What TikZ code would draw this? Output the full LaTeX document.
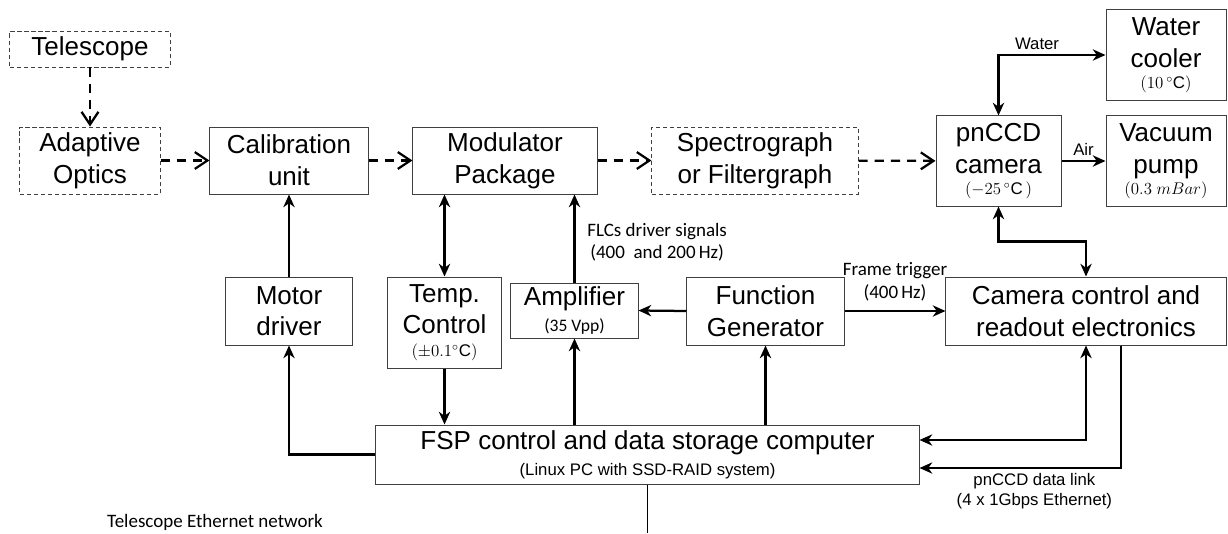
\documentclass[tikz,border=0pt]{standalone}
\usepackage{fontspec}
\setmainfont{Liberation Sans}
\newfontfamily\calfont{Carlito}
\usetikzlibrary{arrows.meta,calc}
\newcommand{\bigfnt}{\fontsize{18.5}{22.5}\selectfont}
\newcommand{\subfnt}{\fontsize{12}{14}\selectfont}
\newcommand{\smfnt}{\fontsize{11.9}{14}\selectfont}
\newcommand{\lblfnt}{\calfont\fontsize{13.5}{16}\selectfont}

\begin{document}
\begin{tikzpicture}
[x=0.025cm, y=-0.025cm,
block/.style={draw=black!75, line width=0.7pt, align=center, inner sep=0pt, font=\bigfnt},
dblock/.style={block, dash pattern=on 3pt off 2pt},
sig/.style={line width=1.6pt, >={Stealth[length=9pt,width=8pt,inset=2.8pt]}},
light/.style={line width=1.6pt, dash pattern=on 6.5pt off 5pt, >={Straight Barb[length=9pt,width=12pt]}}]
\useasboundingbox (0,0) rectangle (1228,533);

% optical path
\node (tel) at (90,49) [dblock, minimum width=4cm, minimum height=0.9cm] {Telescope};
\node (ao) at (90,160.5) [dblock, minimum width=3.5cm, minimum height=1.675cm] {Adaptive\\Optics};
\node (cal) at (289,160.5) [block, minimum width=3.95cm, minimum height=1.675cm] {Calibration\\unit};
\node (mod) at (505,160.5) [block, minimum width=4.6cm, minimum height=1.675cm] {Modulator\\Package};
\node (spec) at (755,160.5) [dblock, minimum width=5.15cm, minimum height=1.675cm] {Spectrograph\\or Filtergraph};
\node (cam) at (998.5,161) [block, minimum width=3.125cm, minimum height=2.25cm] {pnCCD\\camera\\[-7.5pt]{\subfnt$(-25\,^{\circ}\mathrm{C}\,)$}};
\node (wat) at (1166,55) [block, minimum width=3cm, minimum height=2.25cm] {Water\\cooler\\[-7.5pt]{\subfnt$(10\,^{\circ}\mathrm{C})$}};
\node (vac) at (1166,161) [block, minimum width=3cm, minimum height=2.25cm] {Vacuum\\pump\\[-7.5pt]{\subfnt$(0.3\;mBar)$}};

% electronics
\node (mot) at (289,311) [block, minimum width=3.15cm, minimum height=1.7cm] {Motor\\driver};
\node (tmp) at (444.5,322.5) [block, minimum width=2.825cm, minimum height=2.275cm] {Temp.\\Control\\[-6.5pt]{\subfnt$(\pm0.1^{\circ}\mathrm{C})$}};
\node (amp) at (574.5,310.5) [block, minimum width=3.175cm, minimum height=1.375cm] {Amplifier\\[-4.5pt]{\calfont\fontsize{12.5}{14}\selectfont(35 Vpp)}};
\node (fg) at (765.5,311) [block, minimum width=3.925cm, minimum height=1.7cm] {Function\\Generator};
\node (ctl) at (1086,311) [block, minimum width=7cm, minimum height=1.7cm] {Camera control and\\readout electronics};
\node (fsp) at (647.5,454.5) [block, minimum width=13.575cm, minimum height=1.475cm] {FSP control and data storage computer\\[-4pt]{\smfnt(Linux PC with SSD-RAID system)}};
\coordinate (net) at (647.5,533);
\node (netlbl) at (215,522) [font=\lblfnt] {Telescope Ethernet network};

\draw[light,->] (tel) -- (ao);
\draw[light,->] (ao) -- (cal);
\draw[light,->] (cal) -- (mod);
\draw[light,->] (mod) -- (spec);
\draw[light,->] (spec) -- (cam);

\draw[sig,<->] (cam.north) |- node[pos=0.68,above,font=\smfnt] {Water} (wat.west);
\draw[sig,->] (cam.east) -- node[above,font=\smfnt] {Air} (vac.west);
\draw[sig,<->] (cam.south) -- ++(0,35) -| (ctl.north);

\draw[sig,->] (mot) -- (cal);
\draw[sig,->] (fsp.west) -| (mot.south);
\draw[sig,<->] (tmp.north) -- (tmp.north |- mod.south);
\draw[sig,->] (tmp.south) -- (tmp.south |- fsp.north);
\draw[sig,->] (amp.north) -- node[pos=0.46,right,xshift=5pt,align=center,font=\lblfnt] {FLCs driver signals\\(400\ \ and 200\,Hz)} (amp.north |- mod.south);
\draw[sig,->] (amp.south |- fsp.north) -- (amp.south);
\draw[sig,->] (fg.south |- fsp.north) -- (fg.south);
\draw[sig,->] (fg.west) -- (amp.east);
\draw[sig,->] (fg.east) -- node[above,yshift=3pt,align=center,font=\lblfnt] {Frame trigger\\(400\,Hz)} (ctl.west);
\draw[sig,<->] (ctl.south) |- ([yshift=0.3625cm]fsp.east);
\draw[sig,->] ([xshift=0.875cm]ctl.south) |- node[pos=0.715,below,align=center,font=\smfnt] {pnCCD data link\\(4 x 1Gbps Ethernet)} ([yshift=-0.3375cm]fsp.east);
\draw[line width=0.8pt] (fsp.south) -- (net);

\end{tikzpicture}
\end{document}
